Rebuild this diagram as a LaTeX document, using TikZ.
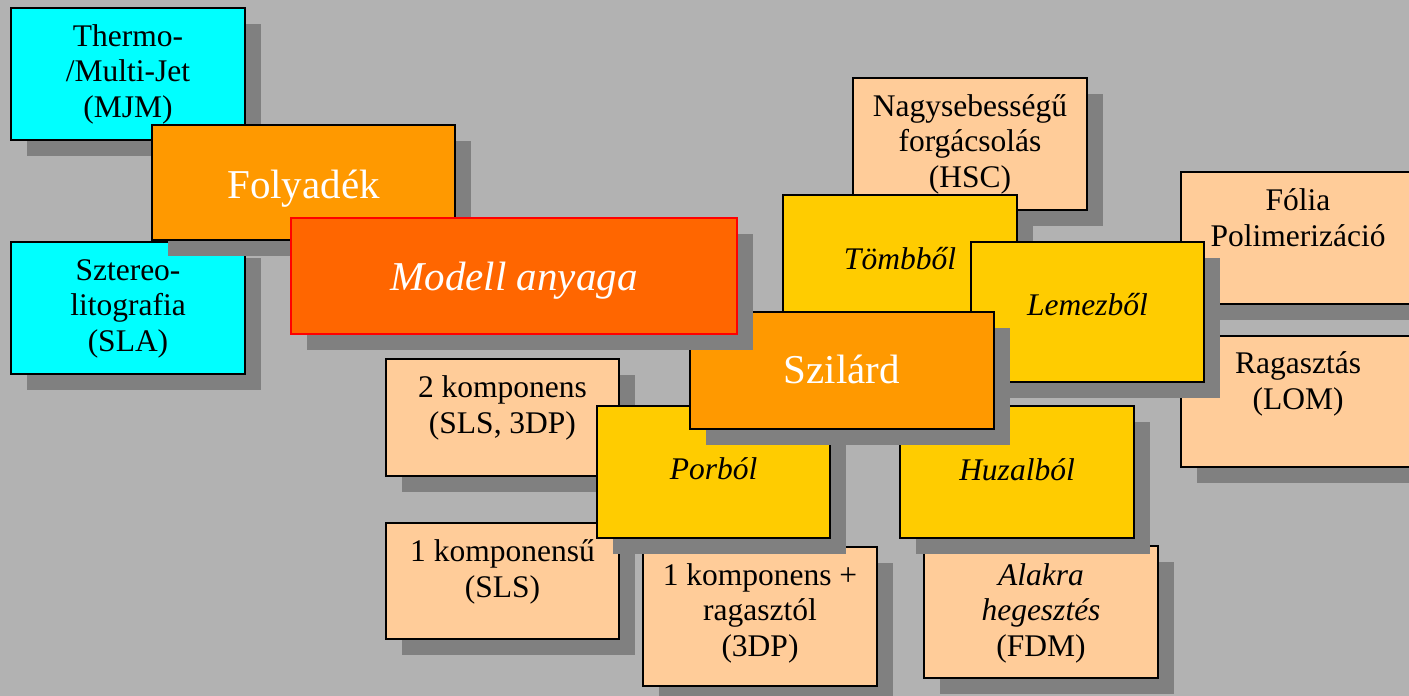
\documentclass[tikz,border=0pt]{standalone}
\usepackage{fontspec}
\setmainfont{Liberation Serif}
\usetikzlibrary{shadows}
\definecolor{bgc}{HTML}{B2B2B2}
\definecolor{shc}{HTML}{808080}
\definecolor{cyanc}{HTML}{00FFFF}
\definecolor{orangec}{HTML}{FF9900}
\definecolor{redorc}{HTML}{FF6600}
\definecolor{yellowc}{HTML}{FFCC00}
\definecolor{peachc}{HTML}{FFCC99}
\tikzset{
  box/.style={draw=black, line width=1.4pt, anchor=north west, inner sep=0pt, outer sep=0pt,
    drop shadow={shadow xshift=16pt, shadow yshift=-16pt, fill=shc, opacity=1}},
  txt/.style={font=\fontsize{31.5}{35.5}\selectfont, align=center, anchor=base, inner sep=0pt},
  big/.style={font=\fontsize{41}{45}\selectfont, text=white, anchor=base, inner sep=0pt},
}
\begin{document}
\begin{tikzpicture}[x=1pt,y=-1pt]
\clip (0,0) rectangle (1409,696);
\fill[bgc] (0,0) rectangle (1409,696);
% liquid branch
\node[box, fill=cyanc, minimum width=234, minimum height=132] (mjm) at (11,8) {};
\node[txt] (mjmt) at (128,117) {Thermo-\\/Multi-Jet\\(MJM)};
\node[box, fill=cyanc, minimum width=234, minimum height=132] (sla) at (11,242) {};
\node[txt] (slat) at (128,351) {Sztereo-\\litografia\\(SLA)};
\node[box, fill=orangec, minimum width=303, minimum height=115] (foly) at (152,125) {};
\node[big] (folyt) at (303.5,198) {Folyadék};
% solid - top/right
\node[box, fill=peachc, minimum width=234, minimum height=132] (hsc) at (853,78) {};
\node[txt] (hsct) at (970,187) {Nagysebességű\\forgácsolás\\(HSC)};
\node[box, fill=peachc, minimum width=234, minimum height=132] (folia) at (1181,172) {};
\node[txt] (foliat) at (1298,246) {Fólia\\Polimerizáció};
\node[box, fill=peachc, minimum width=234, minimum height=131] (lom) at (1181,336) {};
\node[txt] (lomt) at (1298,409) {Ragasztás\\(LOM)};
\node[box, fill=yellowc, minimum width=234, minimum height=132] (tomb) at (783,195) {};
\node[txt, font=\fontsize{31.5}{35.5}\selectfont\itshape] (tombt) at (900,269) {Tömbből};
\node[box, fill=yellowc, minimum width=233, minimum height=140] (lemez) at (971,242) {};
\node[txt, font=\fontsize{31.5}{35.5}\selectfont\itshape] (lemezt) at (1087.5,315) {Lemezből};
% solid - bottom
\node[box, fill=peachc, minimum width=233, minimum height=117] (k2) at (386,359) {};
\node[txt] (k2t) at (502.5,433) {2 komponens\\(SLS, 3DP)};
\node[box, fill=peachc, minimum width=233, minimum height=116] (k1) at (386,523) {};
\node[txt] (k1t) at (502.5,597) {1 komponensű\\(SLS)};
\node[box, fill=peachc, minimum width=234, minimum height=139] (k3) at (643,547) {};
\node[txt] (k3t) at (760,656) {1 komponens +\\ragasztól\\(3DP)};
\node[box, fill=peachc, minimum width=234, minimum height=132] (fdm) at (924,546) {};
\node[txt] (fdmt) at (1041,656) {\itshape Alakra\\\itshape hegesztés\\(FDM)};
\node[box, fill=yellowc, minimum width=233, minimum height=132] (por) at (597,406) {};
\node[txt, font=\fontsize{31.5}{35.5}\selectfont\itshape] (port) at (713.5,479) {Porból};
\node[box, fill=yellowc, minimum width=234, minimum height=132] (huz) at (900,406) {};
\node[txt, font=\fontsize{31.5}{35.5}\selectfont\itshape] (huzt) at (1017,480) {Huzalból};
% solid main
\node[box, fill=orangec, minimum width=304, minimum height=117] (szil) at (690,312) {};
\node[big] (szilt) at (842,383) {Szilárd};
% root
\node[box, draw=red, fill=redorc, minimum width=446, minimum height=116] (modell) at (291,218) {};
\node[big, font=\fontsize{41}{45}\selectfont\itshape] (modellt) at (514,290) {Modell anyaga};
\end{tikzpicture}
\end{document}
